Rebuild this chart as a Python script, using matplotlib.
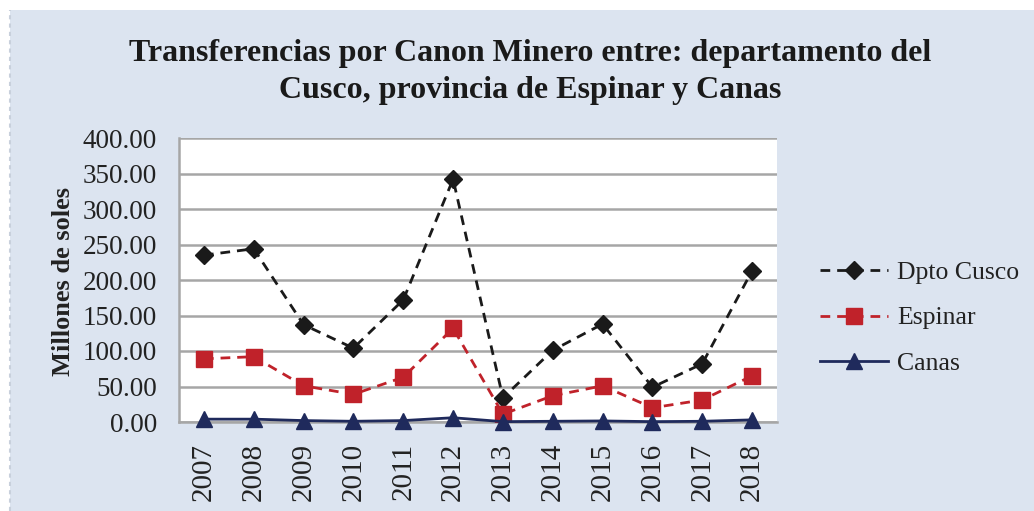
import matplotlib
matplotlib.use("Agg")
import matplotlib.pyplot as plt
from matplotlib.patches import Rectangle

years = ["2007", "2008", "2009", "2010", "2011", "2012", "2013", "2014", "2015", "2016", "2017", "2018"]
cusco = [235, 244, 137, 104, 172, 342, 34, 101, 138, 49, 82, 213]
espinar = [89, 92, 51, 39, 63, 132, 11, 37, 51, 20, 31, 65]
canas = [4, 4, 2, 1, 2, 6, 0.5, 1, 1.5, 0.5, 1, 3]
yticks = [0, 50, 100, 150, 200, 250, 300, 350, 400]

plt.rcParams['font.family'] = ['Liberation Serif', 'DejaVu Serif']

fig = plt.figure(figsize=(10.34, 5.11), dpi=100)
fig.patch.set_facecolor('white')
bg = Rectangle((10/1034, 0), 1 - 10/1034, 1 - 10/511, transform=fig.transFigure,
               facecolor='#dce4f0', edgecolor='none', zorder=-10)
fig.patches.append(bg)
fig.add_artist(plt.Line2D([10/1034, 10/1034], [0, 1 - 10/511], transform=fig.transFigure,
                          color='#c8d0dc', lw=1.5, ls=(0, (2, 2))))

ax = fig.add_axes([179/1034, 1 - 422/511, 598/1034, 284/511])
ax.set_facecolor('white')
x = list(range(len(years)))
ax.plot(x, cusco, ls='--', color='#1a1a1a', lw=2.0, marker='D', ms=9.5, mfc='#1a1a1a', mec='#1a1a1a', label='Dpto Cusco', dashes=(3.5, 2.5), zorder=3)
ax.plot(x, espinar, ls='--', color='#c0222a', lw=2.0, marker='s', ms=11, mfc='#c0222a', mec='#c0222a', label='Espinar', dashes=(3.5, 2.5), zorder=3)
ax.plot(x, canas, ls='-', color='#1f2a5c', lw=2.0, marker='^', ms=12, mfc='#1f2a5c', mec='#1f2a5c', label='Canas', zorder=4, clip_on=False)

ax.set_xlim(-0.5, len(years) - 0.5)
ax.set_ylim(0, 400)
ax.set_yticks(yticks)
ax.set_yticklabels([f"{v:.2f}" for v in yticks], fontsize=19.5, color='#222222')
ax.set_xticks(x)
ax.set_xticklabels(years, rotation=90, fontsize=21, color='#222222')
ax.tick_params(axis='y', length=0, pad=16)
ax.tick_params(axis='x', length=0, pad=15)
ax.grid(axis='y', color='#a6a6a6', lw=1.8)
ax.set_axisbelow(True)
for s in ['top', 'right']:
    ax.spines[s].set_visible(False)
ax.spines['left'].set_color('#a6a6a6')
ax.spines['bottom'].set_color('#a6a6a6')
ax.spines['left'].set_linewidth(1.8)
ax.spines['bottom'].set_linewidth(1.8)

ax.set_ylabel('Millones de soles', fontsize=19, fontweight='bold', color='#222222')
ax.yaxis.set_label_coords(75/1034, 0.5 * (1 - 185/511 + 1 - 378/511), transform=fig.transFigure)

fig.text(530/1034, 1 - 72/511, 'Transferencias por Canon Minero entre: departamento del\nCusco, provincia de Espinar y Canas',
         ha='center', va='center', fontsize=23, fontweight='bold', color='#1a1a1a', linespacing=1.35)

leg = ax.legend(loc='center left', bbox_to_anchor=(820/1034, 1 - 318/511), bbox_transform=fig.transFigure,
                frameon=False, fontsize=18.5, handlelength=2.65, labelspacing=0.88, handletextpad=0.35,
                borderpad=0, borderaxespad=0)
for t in leg.get_texts():
    t.set_color('#222222')

fig.savefig('out.png', dpi=100)
